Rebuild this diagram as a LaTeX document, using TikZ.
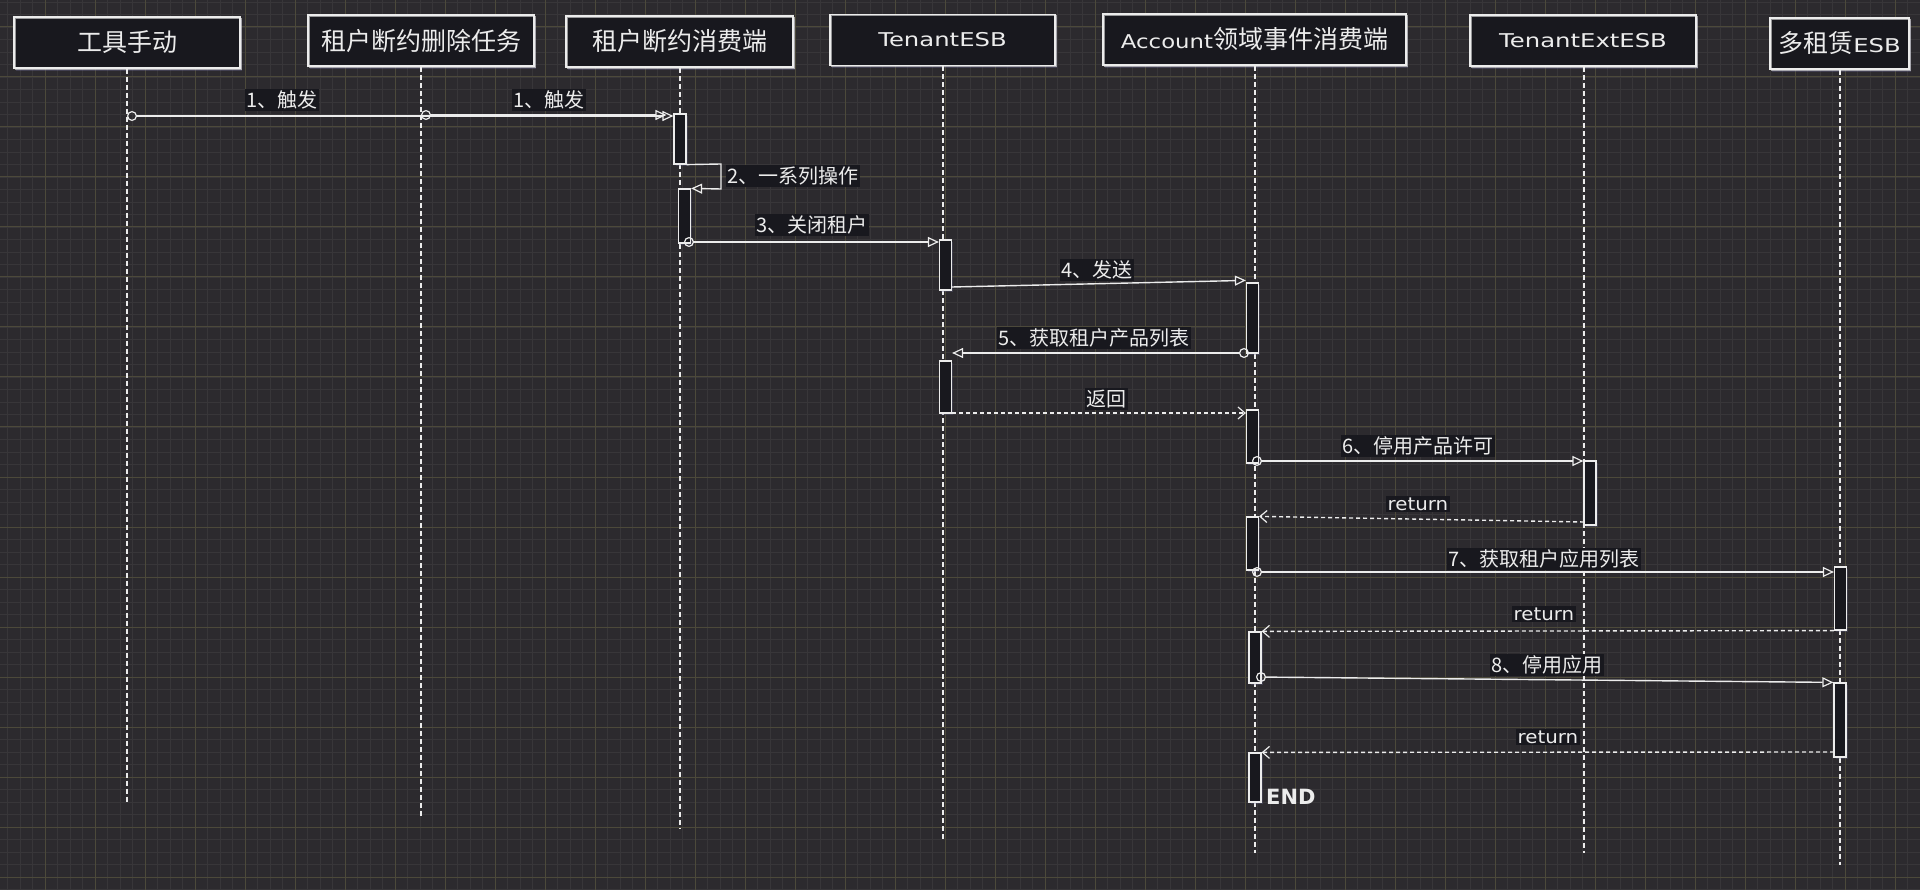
\documentclass[tikz,border=0pt]{standalone}
\usepackage{fontspec}
\usepackage{graphicx}
\setmainfont{Noto Sans CJK SC}
\newfontfamily\latf{DejaVu Sans}
\usetikzlibrary{arrows.meta,shadows}

\definecolor{bgc}{RGB}{44,42,46}
\definecolor{gridminor}{RGB}{56,54,57}
\definecolor{gridmajor}{RGB}{76,73,58}
\definecolor{boxfill}{RGB}{24,24,30}
\definecolor{ink}{RGB}{236,236,236}
\definecolor{glow}{RGB}{105,105,145}

% wide latin lettering used inside the diagram
\newcommand\hand[2][1.28]{\scalebox{#1}[1]{\latf\fontsize{19}{22}\selectfont #2}}
\newcommand\retword{\scalebox{1.1}[1]{\latf\fontsize{18}{21}\selectfont return}}

\tikzset{
  actor/.style={draw=ink, line width=1.3pt, fill=boxfill, text=ink,
    minimum height=51pt, inner sep=0pt,
    font=\fontsize{25}{28}\selectfont,
    drop shadow={shadow xshift=2pt, shadow yshift=-3pt, fill=glow, opacity=.35},
    postaction={draw=ink, line width=.6pt, opacity=.6,
      transform canvas={shift={(1.5pt,-1.2pt)}}}},
  actbar/.style={draw=ink, line width=1.2pt, fill=boxfill, minimum width=12pt,
    inner sep=0pt,
    drop shadow={shadow xshift=1.5pt, shadow yshift=-2pt, fill=glow, opacity=.3}},
  lifeline/.style={draw=ink, line width=1.1pt, dash pattern=on 5pt off 3pt},
  msg/.style={draw=ink, line width=1.4pt,
    -{Triangle[open, length=11pt, width=10pt, line width=1.2pt]}},
  callmsg/.style={msg,
    {Circle[open, length=10pt, line width=1.2pt]}-{Triangle[open, length=11pt, width=10pt, line width=1.2pt]}},
  retmsg/.style={draw=ink, line width=1.4pt, dash pattern=on 4pt off 3pt,
    -{Straight Barb[length=7pt, width=12pt, line width=1.2pt]}},
  lbl/.style={fill=boxfill, text=ink, inner sep=1.5pt,
    font=\fontsize{20}{22}\selectfont},
  retlbl/.style={fill=boxfill, text=ink, inner sep=2pt},
}

\begin{document}
\begin{tikzpicture}[x=1pt, y=-1pt]
\useasboundingbox (0,0) rectangle (1920,890);
\fill[bgc] (0,0) rectangle (1920,890);

% background grid
\foreach \i in {0,...,153}
  \draw[gridminor, line width=.8pt] ({7.5+12.5*\i},0) -- ({7.5+12.5*\i},890);
\foreach \i in {0,...,71}
  \draw[gridminor, line width=.8pt] (0,{2+12.5*\i}) -- (1920,{2+12.5*\i});
\foreach \j in {0,...,37}
  \draw[gridmajor, line width=1pt] ({45+50*\j},0) -- ({45+50*\j},890);
\foreach \j in {0,...,17}
  \draw[gridmajor, line width=1pt] (0,{27+50*\j}) -- (1920,{27+50*\j});

% participants
\node[actor, minimum width=226pt] (p1) at (127,42.5) {工具手动};
\node[actor, minimum width=226pt] (p2) at (421,40.5) {租户断约删除任务};
\node[actor, minimum width=227pt] (p3) at (679.5,41.5) {租户断约消费端};
\node[actor, minimum width=225pt] (p4) at (942.5,40) {\hand{TenantESB}};
\node[actor, minimum width=303pt] (p5) at (1254.5,39.5) {\hand[1.2]{Account}领域事件消费端};
\node[actor, minimum width=226pt] (p6) at (1583,40.5) {\hand{TenantExtESB}};
\node[actor, minimum width=139pt] (p7) at (1839.5,43.5) {多租赁\hand{ESB}};

% lifelines
\coordinate (e1) at (127,803);
\coordinate (e2) at (421,816);
\coordinate (e3) at (680,828);
\coordinate (e4) at (943,840);
\coordinate (e5) at (1255,853);
\coordinate (e6) at (1584,853);
\coordinate (e7) at (1840,865);
\draw[lifeline] (p1.south) -- (e1);
\draw[lifeline] (p2.south) -- (e2);
\draw[lifeline] (p3.south -| e3) -- (e3);
\draw[lifeline] (p4.south -| e4) -- (e4);
\draw[lifeline] (p5.south -| e5) -- (e5);
\draw[lifeline] (p6.south -| e6) -- (e6);
\draw[lifeline] (p7.south -| e7) -- (e7);

% activation bars
\node[actbar, minimum height=50pt] (b1) at (680,139) {};
\node[actbar, minimum height=54pt] (b2) at (684.5,216) {};
\node[actbar, minimum height=50pt] (b3) at (945.5,265) {};
\node[actbar, minimum height=52pt] (b4) at (945.5,387) {};
\node[actbar, minimum height=70pt] (b5) at (1252.5,318) {};
\node[actbar, minimum height=53pt] (b6) at (1252.5,436.5) {};
\node[actbar, minimum height=53pt] (b7) at (1252.5,543.5) {};
\node[actbar, minimum height=51pt] (b8) at (1255,657.5) {};
\node[actbar, minimum height=49pt] (b9) at (1255,777.5) {};
\node[actbar, minimum height=64pt] (b10) at (1590,493) {};
\node[actbar, minimum height=63pt] (b11) at (1840.5,598.5) {};
\node[actbar, minimum height=74pt] (b12) at (1840,720) {};

% messages
\coordinate (s1) at (127,116);
\coordinate (s2) at (421,115);
\draw[callmsg] (s1) -- (b1.north west |- s1);
\draw[callmsg, shorten >=7pt] (s2) -- (b1.north west |- s2);
\node[lbl] (t1) at (282,100) {1、触发};
\node[lbl] (t2) at (549,100) {1、触发};

\coordinate (k1) at (721,164);
\coordinate (k2) at (721,189);
\draw[msg] (b1.south east) -- (k1) -- (k2) -- (b2.north east);
\node[lbl, anchor=west] (t3) at (726,176) {2、一系列操作};

\coordinate (s3) at (684,242);
\draw[callmsg] (s3) -- (b3.north west |- s3);
\node[lbl] (t4) at (812,225) {3、关闭租户};

\coordinate (s4) at (952,287);
\draw[msg] (s4) -- ([yshift=2pt]b5.north west);
\node[lbl] (t5) at (1097,270) {4、发送};

\coordinate (s5) at (1249,353);
\draw[callmsg] (s5) -- (b4.east |- s5);
\node[lbl] (t6) at (1094,338) {5、获取租户产品列表};

\coordinate (r1) at (952,413);
\draw[retmsg] (r1) -- (b6.west |- r1);
\node[lbl] (t7) at (1106,399) {返回};

\coordinate (s6) at (1252,461);
\draw[callmsg] (s6) -- (b10.west |- s6);
\node[lbl] (t8) at (1418,446) {6、停用产品许可};

\coordinate (r2) at (1584,522);
\draw[retmsg] (r2) -- (b7.north east);
\node[retlbl] (t9) at (1418,504) {\retword};

\coordinate (s7) at (1252,572);
\draw[callmsg] (s7) -- (b11.west |- s7);
\node[lbl] (t10) at (1544,559) {7、获取租户应用列表};

\draw[retmsg] (b11.south west) -- (b8.north east);
\node[retlbl] (t11) at (1544,614) {\retword};

\coordinate (s8) at (1256,677);
\draw[callmsg] (s8) -- (b12.north west);
\node[lbl] (t12) at (1547,665) {8、停用应用};

\coordinate (r4) at (1834,752);
\draw[retmsg] (r4) -- (b9.north east);
\node[retlbl] (t13) at (1548,737) {\retword};

\node[text=ink, anchor=west, inner sep=0pt,
  font=\latf\bfseries\fontsize{21}{24}\selectfont] (fin) at (1266,797) {END};
\end{tikzpicture}
\end{document}
